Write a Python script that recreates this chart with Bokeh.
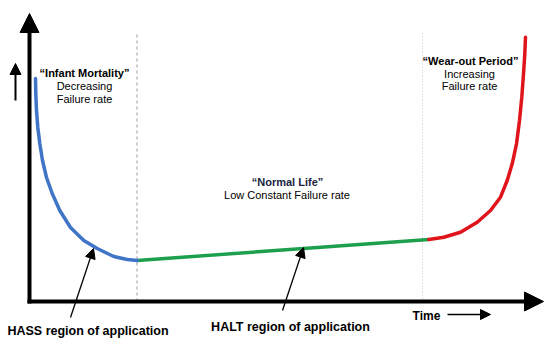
from bokeh.plotting import figure
from bokeh.models import Range1d, Label, Arrow, NormalHead
from bokeh.embed import file_html
from bokeh.resources import INLINE

# ---- data (time, failure rate) ----
infant_time = [6, 6.3, 7, 8.3, 10.3, 13, 17, 22.7, 30.3, 41, 54.3, 67.7, 84.3, 97.7, 107.7]
infant_rate = [223, 208, 191, 174, 158, 141, 124, 108, 91, 74, 61, 53, 45, 42, 41]

normal_time = [107.7, 274, 399.3]
normal_rate = [41, 53, 62]

wear_time = [399.3, 414.3, 431, 447.7, 461, 471, 477.7, 482.7, 487, 490, 492.3, 494, 495.3, 496]
wear_rate = [62, 64.3, 69.3, 79.3, 91, 104.3, 121, 137.7, 157.7, 181, 204.3, 227.7, 247.7, 264.3]

phase_bounds = [107.5, 393]

FONT = "Liberation Sans"

p = figure(width=550, height=346, output_backend="svg", toolbar_location=None,
           x_range=Range1d(-29, 521), y_range=Range1d(-45, 301),
           x_axis_location=None, y_axis_location=None, min_border=0)
p.grid.visible = False
p.outline_line_color = None
p.background_fill_color = "white"
p.border_fill_color = "white"

# phase boundaries
p.segment(x0=[phase_bounds[0]], y0=[0], x1=[phase_bounds[0]], y1=[268],
          line_color="#9a9a9a", line_width=1, line_dash="3 3")
p.segment(x0=[phase_bounds[1]], y0=[0], x1=[phase_bounds[1]], y1=[268],
          line_color="#c8c8c8", line_width=1, line_dash="1 2")

# curves
p.line(normal_time, normal_rate, line_color="#1DA04E", line_width=3.5, line_cap="round")
p.line(infant_time, infant_rate, line_color="#3F74C6", line_width=3.5,
       line_join="round", line_cap="round")
p.line(wear_time, wear_rate, line_color="#E0141B", line_width=3.5,
       line_join="round", line_cap="round")

# axes with arrows
def arrow(x0, y0, x1, y1, lw, size):
    p.add_layout(Arrow(x_start=x0, y_start=y0, x_end=x1, y_end=y1,
                       line_color="black", line_width=lw,
                       end=NormalHead(size=size, fill_color="black",
                                      line_color="black", line_width=1)))

arrow(0, -2, 0, 288, 4, 19)
arrow(-2, 0, 514, 0, 4, 19)
arrow(-14, 201, -14, 238, 2, 11)
arrow(418, -13, 461, -13, 1.5, 10)
arrow(41, -16, 64, 53, 1.3, 10)
arrow(253, -9, 274, 54, 1.3, 10)

def label(x, y, text, bold=False, size="11px", color="black", align="center"):
    p.add_layout(Label(x=x, y=y, text=text, text_font=FONT, text_font_size=size,
                       text_font_style="bold" if bold else "normal",
                       text_color=color, text_align=align, text_baseline="middle"))

label(55, 229, "\u201cInfant Mortality\u201d", bold=True)
label(55, 216, "Decreasing")
label(55, 203, "Failure rate")

label(441, 241, "\u201cWear-out Period\u201d", bold=True)
label(440, 228, "Increasing")
label(440, 215.5, "Failure rate")

label(258, 120, "\u201cNormal Life\u201d", bold=True, color="#1a2540")
label(257.5, 107, "Low Constant Failure rate")

label(58.5, -29, "HASS region of application", bold=True, size="12.5px")
label(261, -25, "HALT region of application", bold=True, size="12.5px")
label(397, -14, "Time", bold=True, size="12px")

open("out.html", "w").write(file_html(p, INLINE))
